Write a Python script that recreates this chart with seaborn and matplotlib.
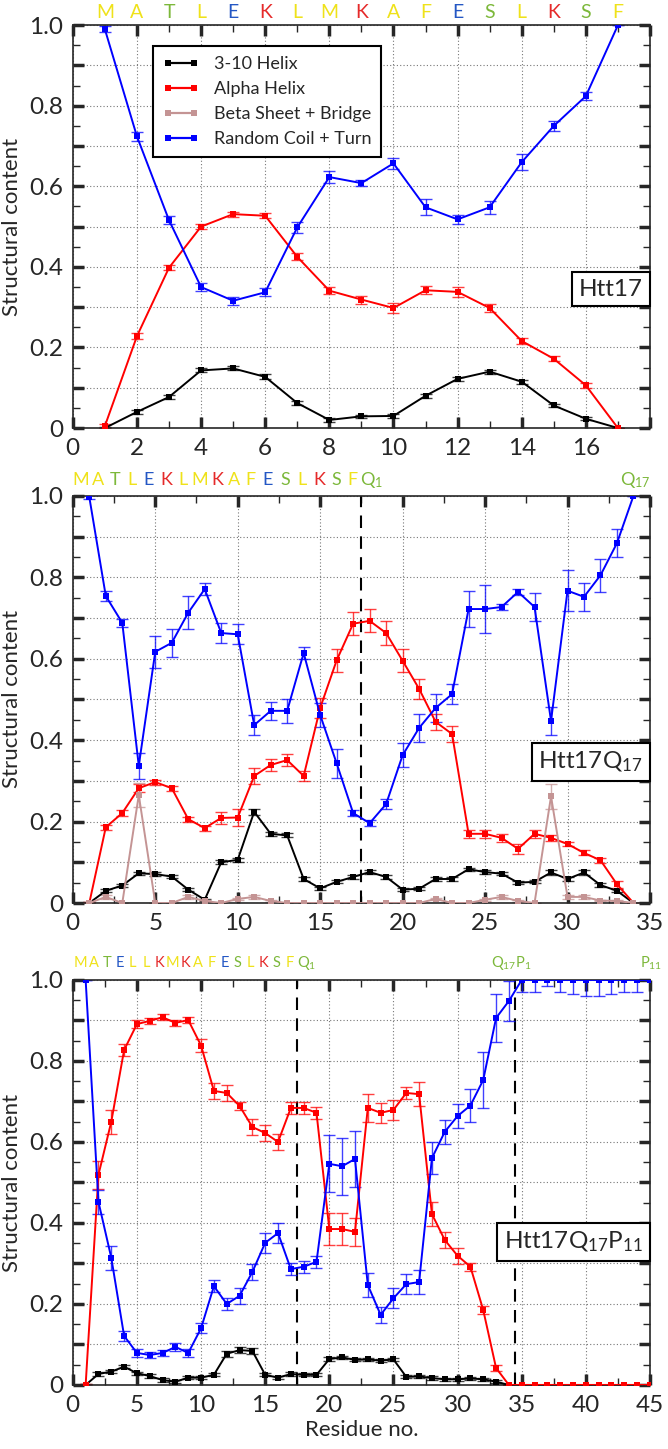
import numpy as np
import pandas as pd
import seaborn as sns
import matplotlib.pyplot as plt
from matplotlib.lines import Line2D
from matplotlib.ticker import MultipleLocator

STRUCTS = ['3-10 Helix', 'Alpha Helix', 'Beta Sheet + Bridge', 'Random Coil + Turn']
COLORS = {'3-10 Helix': '#000000', 'Alpha Helix': '#ff0000',
          'Beta Sheet + Bridge': '#c49494', 'Random Coil + Turn': '#0000ff'}

# ---- Htt17 (residues 1-17) ----
htt17_res = list(range(1, 18))
htt17_h310 = [0.0, 0.04, 0.077, 0.143, 0.148, 0.127, 0.062, 0.02, 0.029, 0.03,
              0.08, 0.122, 0.14, 0.115, 0.056, 0.023, 0.0]
htt17_h310_err = [0.003, 0.005, 0.005, 0.005, 0.005, 0.006, 0.005, 0.004, 0.004, 0.005,
                  0.005, 0.005, 0.005, 0.005, 0.004, 0.004, 0.0]
htt17_alpha = [0.005, 0.228, 0.398, 0.50, 0.531, 0.527, 0.425, 0.341, 0.319, 0.298,
               0.342, 0.338, 0.298, 0.216, 0.172, 0.106, 0.0]
htt17_alpha_err = [0.004, 0.008, 0.006, 0.007, 0.006, 0.006, 0.009, 0.008, 0.01, 0.012,
                   0.01, 0.012, 0.01, 0.007, 0.006, 0.007, 0.0]
htt17_coil = [0.99, 0.724, 0.516, 0.35, 0.316, 0.337, 0.498, 0.623, 0.608, 0.657,
              0.548, 0.518, 0.548, 0.66, 0.75, 0.824, 1.0]
htt17_coil_err = [0.008, 0.012, 0.01, 0.01, 0.01, 0.01, 0.013, 0.015, 0.008, 0.014,
                  0.02, 0.012, 0.016, 0.02, 0.012, 0.01, 0.0]

# ---- Htt17Q17 (residues 1-34) ----
q17_res = list(range(1, 35))
q17_h310 = [0.0, 0.03, 0.043, 0.073, 0.071, 0.065, 0.033, 0.008, 0.1, 0.106,
            0.224, 0.17, 0.166, 0.059, 0.036, 0.052, 0.064, 0.076, 0.064, 0.033,
            0.035, 0.059, 0.059, 0.083, 0.076, 0.072, 0.05, 0.052, 0.075, 0.059,
            0.075, 0.044, 0.03, 0.0]
q17_h310_err = [0.002, 0.004, 0.004, 0.004, 0.004, 0.004, 0.004, 0.003, 0.005, 0.005,
                0.008, 0.005, 0.005, 0.004, 0.004, 0.004, 0.004, 0.004, 0.004, 0.004,
                0.004, 0.004, 0.004, 0.004, 0.004, 0.004, 0.004, 0.004, 0.005, 0.004,
                0.005, 0.004, 0.004, 0.0]
q17_alpha = [0.0, 0.186, 0.221, 0.282, 0.297, 0.282, 0.206, 0.184, 0.209, 0.21,
             0.312, 0.339, 0.351, 0.312, 0.479, 0.596, 0.686, 0.693, 0.663, 0.595,
             0.526, 0.445, 0.415, 0.17, 0.17, 0.16, 0.133, 0.17, 0.16, 0.145,
             0.123, 0.105, 0.046, 0.0]
q17_alpha_err = [0.003, 0.006, 0.007, 0.01, 0.006, 0.006, 0.006, 0.006, 0.015, 0.02,
                 0.02, 0.015, 0.015, 0.012, 0.025, 0.028, 0.028, 0.028, 0.03, 0.028,
                 0.025, 0.02, 0.02, 0.01, 0.01, 0.01, 0.012, 0.01, 0.008, 0.006,
                 0.006, 0.006, 0.008, 0.0]
q17_beta = [0.0, 0.015, 0.0, 0.265, 0.0, 0.0, 0.015, 0.005, 0.0, 0.01,
            0.015, 0.005, 0.0, 0.0, 0.0, 0.0, 0.0, 0.0, 0.0, 0.0,
            0.0, 0.01, 0.0, 0.0, 0.008, 0.015, 0.005, 0.0, 0.262, 0.015,
            0.015, 0.006, 0.005, 0.0]
q17_beta_err = [0.0, 0.004, 0.0, 0.03, 0.0, 0.0, 0.004, 0.002, 0.0, 0.003,
                0.004, 0.002, 0.0, 0.0, 0.0, 0.0, 0.0, 0.0, 0.0, 0.0,
                0.0, 0.003, 0.0, 0.0, 0.003, 0.004, 0.002, 0.0, 0.03, 0.004,
                0.004, 0.002, 0.002, 0.0]
q17_coil = [0.997, 0.754, 0.688, 0.337, 0.617, 0.639, 0.713, 0.771, 0.663, 0.66,
            0.437, 0.472, 0.472, 0.614, 0.462, 0.343, 0.221, 0.196, 0.243, 0.363,
            0.43, 0.479, 0.513, 0.722, 0.722, 0.727, 0.764, 0.727, 0.447, 0.767,
            0.752, 0.805, 0.884, 1.0]
q17_coil_err = [0.005, 0.012, 0.01, 0.032, 0.04, 0.035, 0.04, 0.015, 0.025, 0.025,
                0.025, 0.022, 0.03, 0.015, 0.03, 0.035, 0.007, 0.007, 0.012, 0.03,
                0.035, 0.035, 0.025, 0.045, 0.06, 0.008, 0.008, 0.035, 0.035, 0.05,
                0.035, 0.04, 0.035, 0.0]

# ---- Htt17Q17P11 (residues 1-45) ----
p11_res = list(range(1, 46))
p11_h310 = [0.0, 0.027, 0.033, 0.045, 0.029, 0.022, 0.012, 0.008, 0.018, 0.018,
            0.025, 0.077, 0.086, 0.084, 0.025, 0.018, 0.027, 0.025, 0.025, 0.064,
            0.068, 0.062, 0.063, 0.06, 0.063, 0.02, 0.021, 0.017, 0.014, 0.014,
            0.016, 0.014, 0.008, 0.0, 0.0, 0.0, 0.0, 0.0, 0.0, 0.0,
            0.0, 0.0, 0.0, 0.0, 0.0]
p11_h310_err = [0.002, 0.004, 0.004, 0.004, 0.004, 0.004, 0.004, 0.004, 0.004, 0.004,
                0.004, 0.007, 0.007, 0.007, 0.004, 0.004, 0.004, 0.004, 0.004, 0.004,
                0.004, 0.004, 0.004, 0.004, 0.004, 0.004, 0.004, 0.004, 0.004, 0.004,
                0.004, 0.004, 0.004, 0.0, 0.0, 0.0, 0.0, 0.0, 0.0, 0.0,
                0.0, 0.0, 0.0, 0.0, 0.0]
p11_alpha = [0.0, 0.519, 0.65, 0.827, 0.891, 0.899, 0.908, 0.894, 0.901, 0.838,
             0.726, 0.721, 0.689, 0.637, 0.622, 0.6, 0.684, 0.684, 0.672, 0.385,
             0.385, 0.378, 0.684, 0.672, 0.679, 0.721, 0.718, 0.422, 0.358, 0.319,
             0.292, 0.185, 0.042, 0.0, 0.0, 0.0, 0.0, 0.0, 0.0, 0.0,
             0.0, 0.0, 0.0, 0.0, 0.0]
p11_alpha_err = [0.003, 0.035, 0.03, 0.015, 0.01, 0.008, 0.008, 0.008, 0.008, 0.015,
                 0.02, 0.02, 0.01, 0.02, 0.02, 0.02, 0.015, 0.015, 0.015, 0.04,
                 0.04, 0.035, 0.035, 0.025, 0.025, 0.015, 0.03, 0.03, 0.02, 0.02,
                 0.01, 0.01, 0.008, 0.0, 0.0, 0.0, 0.0, 0.0, 0.0, 0.0,
                 0.0, 0.0, 0.0, 0.0, 0.0]
p11_coil = [1.0, 0.452, 0.314, 0.121, 0.079, 0.074, 0.079, 0.094, 0.079, 0.14,
            0.244, 0.2, 0.22, 0.279, 0.351, 0.375, 0.286, 0.292, 0.304, 0.546,
            0.54, 0.558, 0.247, 0.173, 0.214, 0.249, 0.254, 0.56, 0.625, 0.664,
            0.69, 0.753, 0.906, 0.948, 1.0, 1.0, 1.0, 1.0, 1.0, 1.0,
            1.0, 1.0, 1.0, 1.0, 1.0]
p11_coil_err = [0.0, 0.03, 0.03, 0.012, 0.01, 0.008, 0.008, 0.01, 0.01, 0.012,
                0.015, 0.015, 0.02, 0.02, 0.025, 0.025, 0.015, 0.015, 0.015, 0.07,
                0.07, 0.07, 0.03, 0.02, 0.025, 0.025, 0.03, 0.04, 0.03, 0.03,
                0.04, 0.07, 0.06, 0.05, 0.03, 0.03, 0.015, 0.03, 0.035, 0.04,
                0.04, 0.035, 0.03, 0.03, 0.0]

# residue letters shown above each panel
seq_htt17 = list('MATLEKLMKAFESLKSF')
seq_p11 = list('MATELLKMKAFESLKSF')

sns.set_style('ticks')
plt.rcParams['font.family'] = ['Lato', 'DejaVu Sans']
plt.rcParams['mathtext.fontset'] = 'custom'
plt.rcParams['mathtext.rm'] = 'Lato'
plt.rcParams['mathtext.it'] = 'Lato'
plt.rcParams['axes.linewidth'] = 1.2

AA_COLORS = {'M': '#efe21a', 'A': '#efe21a', 'L': '#efe21a', 'F': '#efe21a',
             'T': '#7cb83a', 'S': '#7cb83a', 'Q': '#7cb83a', 'P': '#7cb83a',
             'E': '#2457c4', 'K': '#e52a2a'}


def make_long(res, series):
    rows = []
    for name, (vals, errs) in series.items():
        for r, v, e in zip(res, vals, errs):
            rows.append({'residue': r, 'content': v, 'err': e, 'structure': name})
    return pd.DataFrame(rows)


def draw_panel(ax, df, xmax, xmajor, xminor, label, label_y):
    for s in STRUCTS:
        sub = df[df['structure'] == s]
        if sub.empty:
            continue
        ax.errorbar(sub['residue'], sub['content'], yerr=sub['err'], fmt='none',
                    ecolor=COLORS[s], elinewidth=1.0, capsize=4, capthick=1.0,
                    alpha=0.75, zorder=2)
        sns.lineplot(data=sub, x='residue', y='content', color=COLORS[s], marker='s',
                     markersize=5, markeredgewidth=0, linewidth=1.4, errorbar=None,
                     legend=False, ax=ax, zorder=3)
    ax.set_xlim(0, xmax)
    ax.set_ylim(0, 1.0)
    ax.xaxis.set_major_locator(MultipleLocator(xmajor))
    ax.xaxis.set_minor_locator(MultipleLocator(xminor))
    ax.yaxis.set_minor_locator(MultipleLocator(0.05))
    yt = np.round(np.arange(0, 1.01, 0.1), 2)
    ax.set_yticks(yt)
    ax.set_yticklabels(['0' if v == 0 else (f'{v:.1f}' if round(v * 10) % 2 == 0 else '')
                        for v in yt])
    ax.tick_params(which='major', direction='in', length=8, width=2.5,
                   top=True, right=True, labelsize=17.5, pad=7)
    ax.tick_params(which='minor', direction='in', length=5, width=1,
                   top=True, right=True)
    ax.grid(True, which='major', color='#777777', linestyle=(0, (1, 2)), linewidth=0.8)
    ax.set_axisbelow(True)
    ax.set_ylabel('Structural content', fontsize=16, labelpad=5)
    ax.set_xlabel('')
    ax.text(0.988, label_y, label, transform=ax.transAxes, ha='right', va='center',
            fontsize=17.5, zorder=6,
            bbox=dict(boxstyle='square,pad=0.28', fc='white', ec='black', lw=1.5))


def seq_letters(ax, letters, xs, size, y=1.033):
    tr = ax.get_xaxis_transform()
    for aa, x in zip(letters, xs):
        ax.text(x, y, aa, transform=tr, ha='center', va='center',
                fontsize=size, color=AA_COLORS[aa], clip_on=False)


fig = plt.figure(figsize=(6.68, 14.49), dpi=100)
ax1 = fig.add_axes([0.109, 0.7046, 0.864, 0.278])
ax2 = fig.add_axes([0.109, 0.3768, 0.864, 0.281])
ax3 = fig.add_axes([0.109, 0.0442, 0.864, 0.2795])

# panel 1
df1 = make_long(htt17_res, {'3-10 Helix': (htt17_h310, htt17_h310_err),
                            'Alpha Helix': (htt17_alpha, htt17_alpha_err),
                            'Random Coil + Turn': (htt17_coil, htt17_coil_err)})
draw_panel(ax1, df1, 18, 2, 1, 'Htt17', 0.345)
ax1.set_xticks(range(0, 19, 2))
ax1.set_xticklabels([str(v) for v in range(0, 17, 2)] + [''])
seq_letters(ax1, seq_htt17, htt17_res, 14, y=1.032)
handles = [Line2D([0], [0], color=COLORS[s], marker='s', markersize=5,
                  markeredgewidth=0, linewidth=1.6) for s in STRUCTS]
leg = ax1.legend(handles, STRUCTS, loc='upper left', bbox_to_anchor=(0.139, 0.948),
                 borderaxespad=0, fontsize=13, frameon=True, fancybox=False,
                 framealpha=1, edgecolor='black', handlelength=2.0, numpoints=2,
                 labelspacing=0.5, borderpad=0.55, handletextpad=0.8)
leg.get_frame().set_linewidth(1.5)
leg.set_zorder(7)

# panel 2
df2 = make_long(q17_res, {'3-10 Helix': (q17_h310, q17_h310_err),
                          'Alpha Helix': (q17_alpha, q17_alpha_err),
                          'Beta Sheet + Bridge': (q17_beta, q17_beta_err),
                          'Random Coil + Turn': (q17_coil, q17_coil_err)})
draw_panel(ax2, df2, 35, 5, 2.5, 'Htt17Q$_{17}$', 0.346)
ax2.axvline(17.5, color='black', linestyle=(0, (6, 4)), linewidth=1.5, zorder=1)
seq_letters(ax2, seq_htt17, [0.5 + 1.03 * i for i in range(17)], 13, y=1.04)
tr2 = ax2.get_xaxis_transform()
ax2.text(18.1, 1.04, 'Q$_{1}$', transform=tr2, ha='center', va='center',
         fontsize=13, color=AA_COLORS['Q'])
ax2.text(34.1, 1.04, 'Q$_{17}$', transform=tr2, ha='center', va='center',
         fontsize=13, color=AA_COLORS['Q'])

# panel 3
df3 = make_long(p11_res, {'3-10 Helix': (p11_h310, p11_h310_err),
                          'Alpha Helix': (p11_alpha, p11_alpha_err),
                          'Random Coil + Turn': (p11_coil, p11_coil_err)})
draw_panel(ax3, df3, 45, 5, 2.5, 'Htt17Q$_{17}$P$_{11}$', 0.353)
ax3.axvline(17.5, color='black', linestyle=(0, (6, 4)), linewidth=1.5, zorder=1)
ax3.axvline(34.5, color='black', linestyle=(0, (6, 4)), linewidth=1.5, zorder=1)
seq_letters(ax3, seq_p11, [0.6 + 1.02 * i for i in range(17)], 10.5, y=1.042)
tr3 = ax3.get_xaxis_transform()
ax3.text(18.2, 1.042, 'Q$_{1}$', transform=tr3, ha='center', va='center',
         fontsize=10.5, color=AA_COLORS['Q'])
ax3.text(34.2, 1.042, 'Q$_{17}$P$_{1}$', transform=tr3, ha='center', va='center',
         fontsize=10.5, color=AA_COLORS['Q'])
ax3.text(45.1, 1.042, 'P$_{11}$', transform=tr3, ha='center', va='center',
         fontsize=10.5, color=AA_COLORS['P'])
ax3.set_xlabel('Residue no.', fontsize=16, labelpad=3)

fig.savefig('out.png', dpi=100)
